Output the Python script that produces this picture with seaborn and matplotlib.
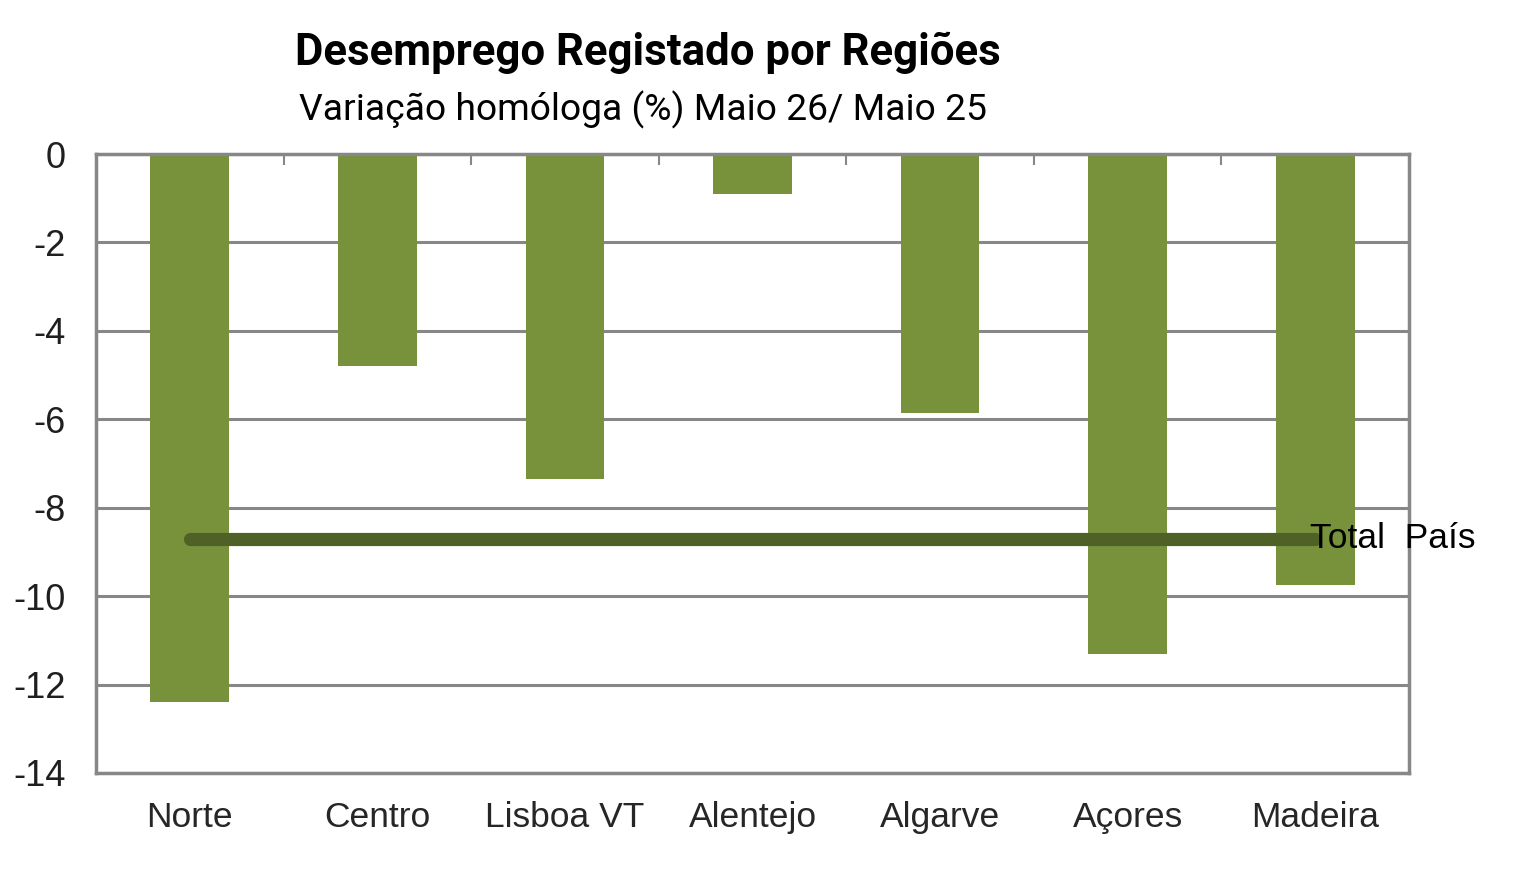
import matplotlib
matplotlib.use("Agg")
import matplotlib.pyplot as plt
import seaborn as sns
import pandas as pd

# Dados (variação homóloga %, Maio 26 / Maio 25)
regioes = ["Norte", "Centro", "Lisboa VT", "Alentejo", "Algarve", "Açores", "Madeira"]
variacao = [-12.4, -4.8, -7.35, -0.9, -5.85, -11.3, -9.75]
total_pais = -8.7
y_ticks = [0, -2, -4, -6, -8, -10, -12, -14]

df = pd.DataFrame({"regiao": regioes, "variacao": variacao})

sns.set_theme(style="white")
plt.rcParams["font.family"] = ["Liberation Sans", "DejaVu Sans"]

fig = plt.figure(figsize=(15.17, 8.77), dpi=100)
ax = fig.add_axes([0.0633, 0.1186, 0.8655, 0.7058])

# grid behind bars
ax.set_axisbelow(True)
ax.yaxis.grid(True, color="#878787", linewidth=2.2)

sns.barplot(data=df, x="regiao", y="variacao", color="#78923C", saturation=1,
            width=0.42, linewidth=0, edgecolor="none", ax=ax, zorder=2)

# linha do total do país
ax.plot([0, len(regioes) - 1], [total_pais, total_pais], color="#506128",
        linewidth=9.5, solid_capstyle="round", zorder=3)
ax.text(len(regioes) - 1 - 0.03, total_pais, "Total  País", fontsize=25.5,
        color="black", va="center", ha="left", zorder=4, clip_on=False)

ax.set_xlim(-0.5, len(regioes) - 0.5)
ax.set_ylim(-14, 0)
ax.set_yticks(y_ticks)
ax.set_yticklabels([str(v) for v in y_ticks])
ax.set_xlabel("")
ax.set_ylabel("")

for s in ax.spines.values():
    s.set_color("#878787")
    s.set_linewidth(2.5)

ax.tick_params(axis="y", length=0, pad=22, labelsize=26, labelcolor="#1f1f1f")
ax.tick_params(axis="x", which="major", length=0, pad=20, labelsize=25.5, labelcolor="#262626")
# pequenos traços no topo entre categorias
ax.set_xticks([i + 0.5 for i in range(len(regioes) - 1)], minor=True)
ax.tick_params(axis="x", which="minor", top=True, bottom=False, direction="in",
               length=8, width=1.5, color="#878787")

fig.text(0.427, 0.940, "Desemprego Registado por Regiões", fontsize=31.5,
         fontweight="bold", family=["Roboto", "DejaVu Sans"], color="black",
         ha="center", va="center")
fig.text(0.424, 0.875, "Variação homóloga (%) Maio 26/ Maio 25", fontsize=26.8,
         fontweight="normal", family=["Roboto", "DejaVu Sans"], color="black",
         ha="center", va="center")

fig.savefig("out.png", dpi=100)
